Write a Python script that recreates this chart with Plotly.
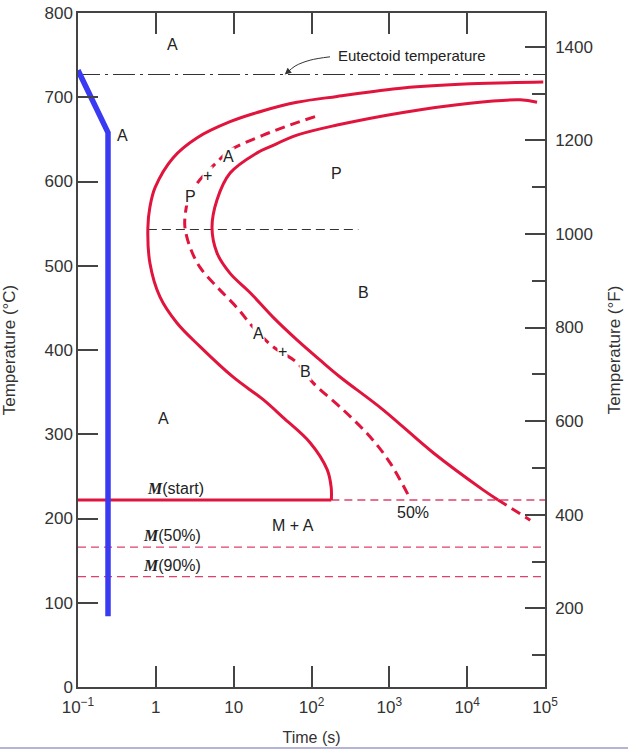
import numpy as np
import plotly.graph_objects as go

# Eutectoid steel isothermal transformation diagram

# Start of transformation (outer solid red curve), time (s) / temperature (C)
start_t = [95000, 10900, 1500, 213, 65, 24, 9.0, 3.4, 1.66, 0.98, 0.84, 0.79,
           0.84, 1.13, 1.87, 3.7, 9.8, 24, 43, 96, 159, 179, 180]
start_T = [718, 716, 711, 701, 694, 684, 671, 652, 628, 593, 570, 545,
           503, 463, 432, 404, 368, 341, 320, 290, 258, 237, 222]

# 50% completion (dashed red curve)
half_t = [111, 53, 24, 9.0, 6.1, 3.4, 2.6, 2.37, 2.37, 2.75, 3.7, 6.1, 11.1, 17.8,
          32, 65, 105, 255, 566, 1023, 1745]
half_T = [677, 667, 655, 637, 623, 598, 578, 558, 545, 522, 498, 475, 450, 427,
          404, 385, 361, 329, 297, 266, 228]

# End of transformation (inner solid red curve)
end_t = [79000, 48000, 10900, 1500, 213, 65, 29, 20, 9.0, 6.1, 5.27,
         6.12, 9.0, 16.3, 32, 65, 129, 233, 832, 3660, 16000, 25000]
end_T = [694, 697, 693, 682, 667, 655, 641, 634, 610, 578, 545,
         515, 491, 468, 439, 412, 388, 368, 329, 278, 234, 222]
end_tail_t = [25000, 64600]
end_tail_T = [222, 198]

# cooling path (blue)
cool_t = [0.1, 0.243, 0.243]
cool_T = [732, 658, 84]

t_range = [0.1, 100000]
eutectoid_T = 727
pearlite_line_t = [0.79, 400]
pearlite_line_T = 543
ms_T = 222
ms_end_t = 180
m50_T = 166
m90_T = 131

x_tickvals = [0.1, 1, 10, 100, 1000, 10000, 100000]
x_ticktext = ['10<sup>\u22121</sup>', '1', '10', '10<sup>2</sup>', '10<sup>3</sup>',
              '10<sup>4</sup>', '10<sup>5</sup>']
f_tickvals = [200, 400, 600, 800, 1000, 1200, 1400]

# region labels: text, time, temperature
labels = [
    ('A', 1.66, 763), ('A', 0.37, 655), ('P', 207, 610), ('B', 460, 468),
    ('A', 1.24, 319), ('M + A', 58, 192), ('50%', 2020, 207),
]
boxed_labels = [
    ('P', 2.75, 582), ('+', 4.55, 607), ('A', 8.7, 630),
    ('A', 20.6, 419), ('+', 41.9, 398), ('B', 83, 374),
]
m_labels = [('start', 1.77, 236), ('50%', 1.6, 180), ('90%', 1.6, 144)]

# pointer from the eutectoid label down to its line
ptr_t = [173, 96, 61.5, 48.5]
ptr_T = [748, 744, 737, 729]

RED = '#e0143c'
PINK = '#e0406c'
BLUE = '#3a3af2'
AXC = '#444444'
FONT = 'Liberation Sans'

fig = go.Figure()

def line(x, y, color, width, dash='solid', shape='linear'):
    fig.add_trace(go.Scatter(x=x, y=y, mode='lines', hoverinfo='skip',
                             line=dict(color=color, width=width, dash=dash, shape=shape)))

line(t_range, [eutectoid_T] * 2, '#333333', 1.2, dash='22px,5px,3px,5px')
line(pearlite_line_t, [pearlite_line_T] * 2, '#333333', 1.2, dash='9px,5px')
line([ms_end_t, t_range[1]], [ms_T] * 2, PINK, 1.4, dash='8px,5px')
line(t_range, [m50_T] * 2, PINK, 1.4, dash='8px,5px')
line(t_range, [m90_T] * 2, PINK, 1.4, dash='8px,5px')
line([t_range[0], ms_end_t], [ms_T] * 2, RED, 3)

line(start_t, start_T, RED, 3, shape='spline')
line(half_t, half_T, RED, 3, dash='10px,6px', shape='spline')
line(end_t, end_T, RED, 3, shape='spline')
line(end_tail_t, end_tail_T, RED, 3, dash='10px,6px')
line(cool_t, cool_T, BLUE, 5.5)
line(ptr_t, ptr_T, '#333333', 1, shape='spline')

# secondary axis carrier for Fahrenheit scale
fig.add_trace(go.Scatter(x=[None], y=[None], yaxis='y2', showlegend=False))

# annotations on a log axis take log10 positions
for txt, t, T in labels:
    fig.add_annotation(x=np.log10(t), y=T, text=txt, showarrow=False,
                       font=dict(family=FONT, size=16, color='#222222'))
for txt, t, T in boxed_labels:
    fig.add_annotation(x=np.log10(t), y=T, text=txt, showarrow=False, bgcolor='white',
                       borderpad=0, font=dict(family=FONT, size=16, color='#222222'))
for txt, t, T in m_labels:
    fig.add_annotation(x=np.log10(t), y=T, showarrow=False,
                       text='<span style="font-family:Liberation Serif"><b><i>M</i></b></span>(' + txt + ')',
                       font=dict(family=FONT, size=16, color='#222222'))

fig.add_annotation(x=np.log10(1960), y=750, text='Eutectoid temperature', showarrow=False,
                   font=dict(family=FONT, size=15, color='#222222'))
fig.add_annotation(x=np.log10(ptr_t[-1]) - 0.03, y=eutectoid_T, ax=6, ay=-5, text='',
                   showarrow=True, arrowhead=2, arrowsize=1.3, arrowwidth=1,
                   arrowcolor='#333333')

fig.update_layout(
    width=628, height=749,
    margin=dict(l=78, r=83, t=13, b=62),
    plot_bgcolor='white', paper_bgcolor='white',
    showlegend=False,
    font=dict(family=FONT, size=17, color='#333333'),
    xaxis=dict(type='log', range=[-1, 5], tickvals=x_tickvals, ticktext=x_ticktext,
               ticks='inside', ticklen=21, tickcolor=AXC, tickwidth=1.5,
               showline=True, linecolor=AXC, linewidth=1.5, mirror='ticks',
               showgrid=False, zeroline=False, automargin=False,
               ticklabeloverflow='allow', ticklabelstandoff=4,
               title=dict(text='Time (s)', font=dict(size=16), standoff=16)),
    yaxis=dict(range=[0, 800], dtick=100, ticks='inside', ticklen=20, tickcolor=AXC,
               tickwidth=1.5, showline=True, linecolor=AXC, linewidth=1.5,
               showgrid=False, zeroline=False, automargin=False,
               ticklabeloverflow='allow',
               title=dict(text='Temperature (\u00b0C)', font=dict(size=17), standoff=27)),
    yaxis2=dict(overlaying='y', side='right', range=[32, 1472], tickvals=f_tickvals,
                ticks='inside', ticklen=20, tickcolor=AXC, tickwidth=1.5,
                minor=dict(ticks='inside', ticklen=13, dtick=100, tick0=0,
                           tickcolor=AXC, tickwidth=1.5),
                showline=True, linecolor=AXC, linewidth=1.5,
                showgrid=False, zeroline=False, automargin=False,
                ticklabeloverflow='allow', ticklabelstandoff=5,
                title=dict(text='Temperature (\u00b0F)', font=dict(size=17), standoff=16)),
)

# thin frame line at the foot of the picture
fig.add_shape(type='line', xref='paper', yref='paper', x0=-0.2, x1=1.2,
              y0=-0.0905, y1=-0.0905, line=dict(color='#b4b4d4', width=2))

# drop the page's default body margin so the figure sits at the window corner
fig.write_html('out.html', config={'displayModeBar': False},
               post_script="document.body.style.margin='0px';")
